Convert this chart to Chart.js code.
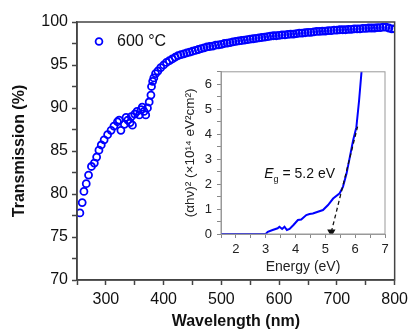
<!DOCTYPE html>
<html>
<head>
<meta charset="utf-8">
<script src="https://cdn.jsdelivr.net/npm/chart.js@4.4.0/dist/chart.umd.min.js"></script>
<style>
html, body { margin: 0; padding: 0; background: #fff; }
#wrap { position: relative; width: 413px; height: 332px; }
#main { position: absolute; left: 0; top: 0; }
#inset { position: absolute; left: 175px; top: 59px; }
</style>
</head>
<body>
<div id="wrap">
  <canvas id="main" width="413" height="332"></canvas>
  <canvas id="inset" width="225" height="221"></canvas>
</div>
<script>
// Transmission spectrum (main plot)
var wavelength = [255, 259, 262, 266, 270, 275, 280, 284, 288, 292, 297, 303, 309, 314, 320, 323,
  326, 332, 335, 338, 342, 344, 346, 350, 354, 358, 361, 363, 366, 369, 372, 375, 378, 379, 381,
  383, 386, 390, 395, 400, 405, 410, 415, 420, 425, 430, 435, 440, 445, 450, 455, 460, 465, 470,
  475, 480, 485, 490, 495, 500, 505, 510, 515, 520, 525, 530, 535, 540, 545, 550, 555, 560, 565,
  570, 575, 580, 585, 590, 595, 600, 605, 610, 615, 620, 625, 630, 635, 640, 645, 650, 655, 660,
  665, 670, 675, 680, 685, 690, 695, 700, 705, 710, 715, 720, 725, 730, 735, 740, 745, 750, 755,
  760, 765, 770, 775, 780, 785, 790, 795, 800];
var transmission = [77.8, 79.0, 80.3, 81.2, 82.2, 83.2, 83.6, 84.3, 85.1, 85.7, 86.3, 86.9, 87.4,
  87.9, 88.4, 88.6, 87.4, 88.1, 88.9, 88.6, 88.3, 89.0, 88.0, 89.3, 89.6, 89.2, 89.8, 90.1, 89.6,
  89.2, 90.0, 90.7, 91.5, 92.5, 93.1, 93.5, 94.0, 94.3, 94.7, 95.0, 95.3, 95.5, 95.7, 95.9, 96.1,
  96.2, 96.3, 96.4, 96.5, 96.6, 96.7, 96.8, 96.9, 97.0, 97.1, 97.15, 97.2, 97.3, 97.35, 97.4,
  97.5, 97.55, 97.6, 97.7, 97.75, 97.8, 97.85, 97.9, 97.95, 98.0, 98.05, 98.1, 98.15, 98.2,
  98.25, 98.3, 98.35, 98.4, 98.4, 98.45, 98.5, 98.5, 98.55, 98.6, 98.6, 98.65, 98.7, 98.7,
  98.75, 98.8, 98.8, 98.85, 98.9, 98.9, 98.95, 98.95, 99.0, 99.0, 99.05, 99.05, 99.1, 99.1,
  99.1, 99.15, 99.15, 99.2, 99.2, 99.2, 99.25, 99.25, 99.3, 99.3, 99.3, 99.35, 99.35, 99.4,
  99.4, 99.3, 99.2, 99.2];
var legendLabel = '600 °C';

// Tauc plot (inset)
var energy = [1.5, 3.0, 3.07, 3.23, 3.4, 3.46, 3.55, 3.63, 3.71, 3.8, 3.93, 4.08, 4.19, 4.36,
  4.47, 4.58, 4.75, 4.92, 5.09, 5.26, 5.48, 5.59, 5.71, 5.82, 5.93, 6.04, 6.13, 6.21, 6.25];
var tauc = [0, 0, 0.09, 0.16, 0.23, 0.29, 0.2, 0.29, 0.16, 0.2, 0.36, 0.56, 0.58, 0.76, 0.8,
  0.82, 0.89, 0.96, 1.16, 1.42, 1.63, 1.89, 2.42, 3.08, 3.75, 4.28, 5.34, 6.47, 7.0];
var tangentE = [5.2, 6.08];
var tangentY = [0.08, 4.3];
var gapValue = '5.2 eV';

var FONT = '"Liberation Sans", Arial, sans-serif';
Chart.defaults.font.family = FONT;
Chart.defaults.color = '#111';

function pts(xs, ys) {
  return xs.map(function (x, i) { return { x: x, y: ys[i] }; });
}

var mainDecor = {
  id: 'mainDecor',
  afterDraw: function (chart) {
    var ctx = chart.ctx, a = chart.chartArea;
    ctx.save();
    ctx.strokeStyle = '#444';
    ctx.lineWidth = 1.5;
    ctx.strokeRect(a.left, a.top, a.right - a.left, a.bottom - a.top);
    // legend inside plot
    ctx.beginPath();
    ctx.arc(99, 41.5, 3.4, 0, Math.PI * 2);
    ctx.strokeStyle = '#0000ff';
    ctx.lineWidth = 1.8;
    ctx.stroke();
    ctx.fillStyle = '#111';
    ctx.font = '16px ' + FONT;
    ctx.textBaseline = 'middle';
    ctx.fillText(legendLabel, 117, 42);
    ctx.restore();
  }
};

var insetDecor = {
  id: 'insetDecor',
  afterDraw: function (chart) {
    var ctx = chart.ctx, a = chart.chartArea;
    var xs = chart.scales.x, ys = chart.scales.y;
    ctx.save();
    ctx.strokeStyle = '#999';
    ctx.lineWidth = 1;
    ctx.strokeRect(a.left, a.top, a.right - a.left, a.bottom - a.top);
    // E_g label
    var x = xs.getPixelForValue(2.95), y = ys.getPixelForValue(2.43);
    ctx.fillStyle = '#111';
    ctx.textBaseline = 'alphabetic';
    ctx.font = 'italic 14px ' + FONT;
    ctx.fillText('E', x, y + 5);
    var w = ctx.measureText('E').width;
    ctx.font = '9px ' + FONT;
    ctx.fillText('g', x + w, y + 9);
    ctx.font = '14px ' + FONT;
    ctx.fillText(' = ' + gapValue, x + w + 5, y + 5);
    ctx.restore();
  }
};

new Chart(document.getElementById('main').getContext('2d'), {
  type: 'scatter',
  data: {
    datasets: [{
      label: legendLabel,
      data: pts(wavelength, transmission),
      showLine: false,
      pointRadius: 3.5,
      pointBorderWidth: 1.8,
      pointBorderColor: '#0000ff',
      pointBackgroundColor: 'rgba(0,0,0,0)'
    }]
  },
  options: {
    responsive: false,
    animation: false,
    events: [],
    layout: { padding: { top: 22, right: 14, left: 0, bottom: 0 } },
    plugins: { legend: { display: false }, tooltip: { enabled: false } },
    scales: {
      x: {
        type: 'linear', min: 250, max: 800,
        afterFit: function (s) { s.height = 52; },
        ticks: {
          stepSize: 50, autoSkip: false, maxRotation: 0, padding: 5,
          font: { size: 16 }, color: '#111',
          callback: function (v) { return v % 100 === 0 ? v : ''; }
        },
        grid: { drawOnChartArea: false, tickLength: 5, tickColor: '#444', tickWidth: 1.5 },
        border: { color: '#444', width: 1.5 },
        title: { display: true, text: 'Wavelength (nm)', font: { size: 16, weight: 'bold' },
          padding: { top: 0, bottom: 1 } }
      },
      y: {
        min: 70, max: 100,
        afterFit: function (s) { s.width = 77; },
        ticks: {
          stepSize: 2.5, autoSkip: false, padding: 4,
          font: { size: 16 }, color: '#111',
          callback: function (v) { return v % 5 === 0 ? v : ''; }
        },
        grid: { drawOnChartArea: false, tickLength: 5, tickColor: '#444', tickWidth: 1.5 },
        border: { color: '#444', width: 1.5 },
        title: { display: true, text: 'Transmission (%)', font: { size: 16, weight: 'bold' },
          padding: { top: 10, bottom: 0 } }
      }
    }
  },
  plugins: [mainDecor]
});

new Chart(document.getElementById('inset').getContext('2d'), {
  type: 'scatter',
  data: {
    datasets: [{
      data: pts(tangentE, tangentY),
      showLine: true,
      borderColor: '#111',
      borderWidth: 1.3,
      borderDash: [4, 3],
      pointStyle: 'triangle',
      pointRotation: 180,
      pointRadius: [3.5, 0],
      pointBackgroundColor: '#111',
      pointBorderColor: '#111',
      order: 0
    }, {
      data: pts(energy, tauc),
      showLine: true,
      borderColor: '#0000ff',
      borderWidth: 2,
      pointRadius: 0,
      order: 1
    }]
  },
  options: {
    responsive: false,
    animation: false,
    events: [],
    layout: { padding: { top: 0, right: 15, left: 0, bottom: 0 } },
    plugins: { legend: { display: false }, tooltip: { enabled: false } },
    scales: {
      x: {
        type: 'linear', min: 1.5, max: 7,
        afterFit: function (s) { s.height = 46; },
        ticks: {
          stepSize: 0.5, autoSkip: false, maxRotation: 0, padding: 4,
          font: { size: 13 }, color: '#222',
          callback: function (v) { return Number.isInteger(v) ? v : ''; }
        },
        grid: { drawOnChartArea: false, tickLength: 4, tickColor: '#888' },
        border: { color: '#999', width: 1 },
        title: { display: true, text: 'Energy (eV)', font: { size: 14 }, color: '#222',
          padding: { top: 0, bottom: 4 } }
      },
      y: {
        min: 0, max: 6.5,
        afterFit: function (s) { s.width = 46; },
        ticks: {
          stepSize: 0.5, autoSkip: false, padding: 5,
          font: { size: 13 }, color: '#222',
          callback: function (v) { return Number.isInteger(v) ? v : ''; }
        },
        grid: { drawOnChartArea: false, tickLength: 4, tickColor: '#888' },
        border: { color: '#999', width: 1 },
        title: { display: true, text: '(αhν)² (×10¹⁴ eV²cm²)', font: { size: 13.5 }, color: '#222',
          padding: { top: 7, bottom: 0 } }
      }
    }
  },
  plugins: [insetDecor]
});
</script>
</body>
</html>
